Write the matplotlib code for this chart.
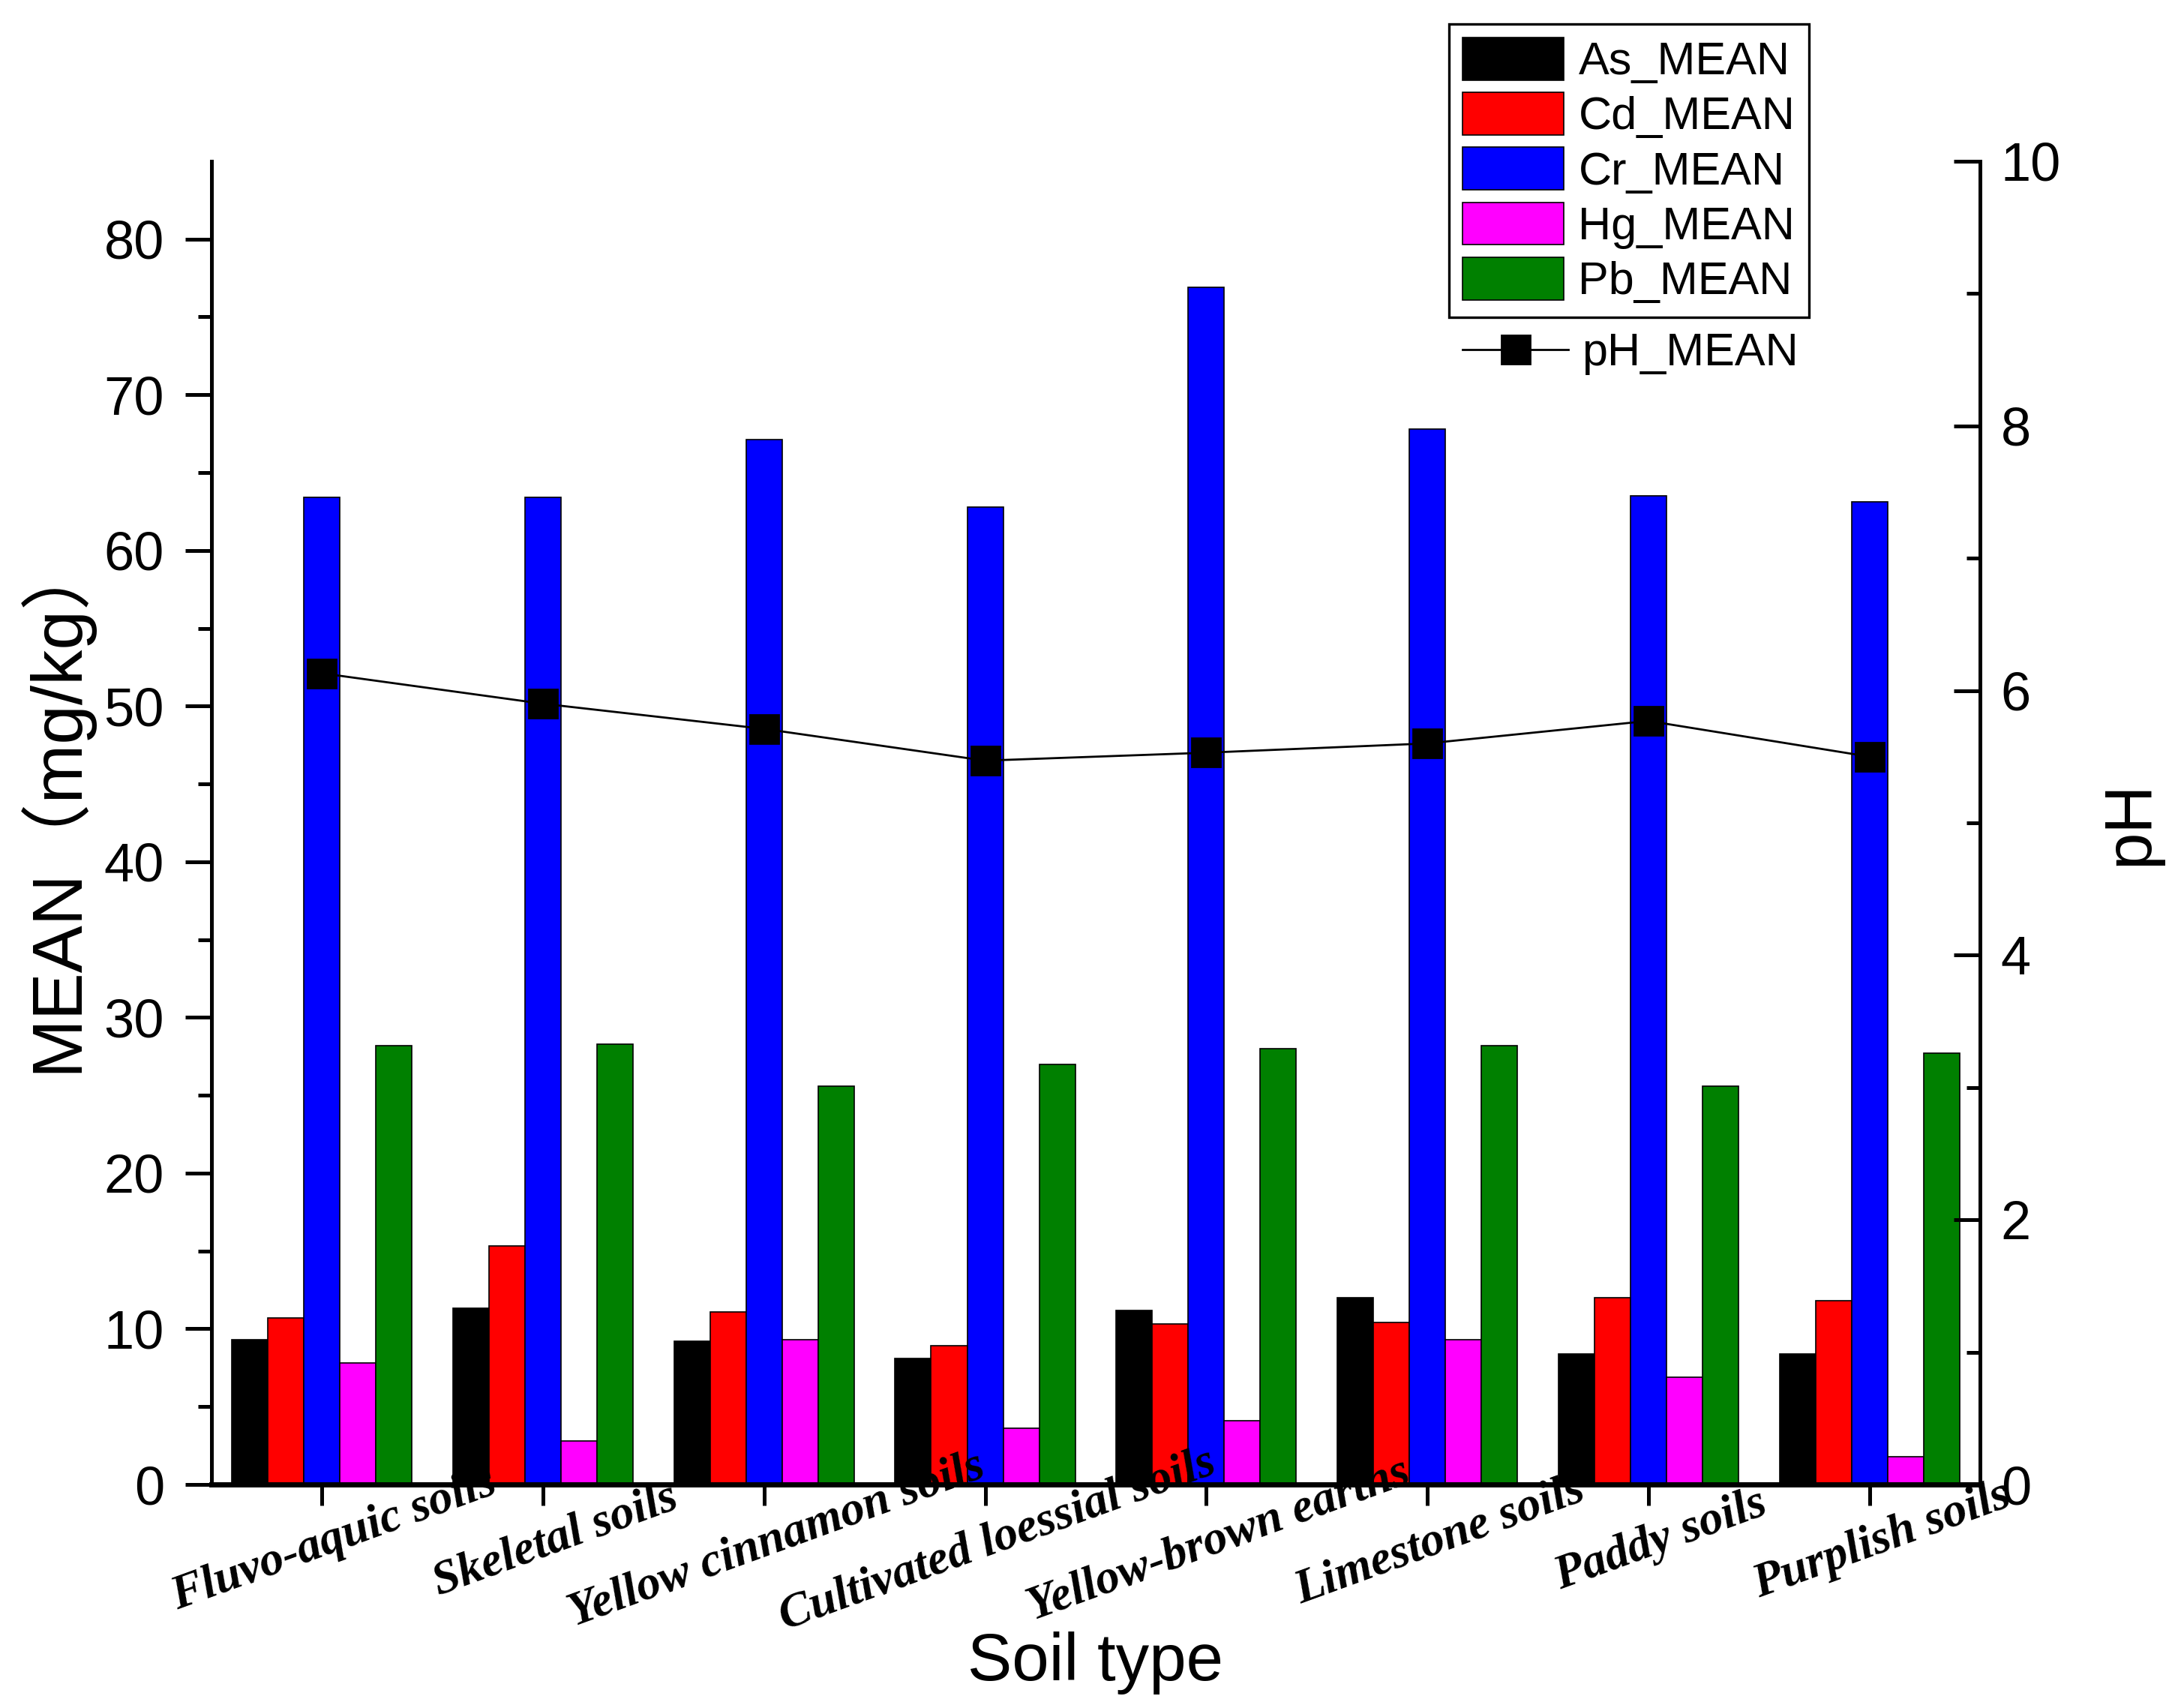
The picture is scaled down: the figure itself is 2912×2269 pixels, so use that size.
import numpy as np
import matplotlib.pyplot as plt
import matplotlib.transforms as mtransforms

soils = ['Fluvo-aquic soils', 'Skeletal soils', 'Yellow cinnamon soils',
         'Cultivated loessial soils', 'Yellow-brown earths', 'Limestone soils',
         'Paddy soils', 'Purplish soils']
as_mean = [9.3, 11.3, 9.2, 8.1, 11.2, 12.0, 8.4, 8.4]
cd_mean = [10.7, 15.3, 11.1, 8.9, 10.3, 10.4, 12.0, 11.8]
cr_mean = [63.4, 63.4, 67.1, 62.8, 76.9, 67.8, 63.5, 63.1]
hg_mean = [7.8, 2.8, 9.3, 3.6, 4.1, 9.3, 6.9, 1.8]
pb_mean = [28.2, 28.3, 25.6, 27.0, 28.0, 28.2, 25.6, 27.7]
ph_mean = [6.13, 5.90, 5.71, 5.47, 5.53, 5.60, 5.77, 5.50]

series = [as_mean, cd_mean, cr_mean, hg_mean, pb_mean]
names = ['As_MEAN', 'Cd_MEAN', 'Cr_MEAN', 'Hg_MEAN', 'Pb_MEAN']
colors = ['#000000', '#ff0000', '#0000ff', '#ff00ff', '#008000']

plt.rcParams['font.family'] = ['Liberation Sans', 'Noto Sans CJK SC']

fig = plt.figure(figsize=(14.56, 11.345), dpi=200)
ax = fig.add_axes([0.0968, 0.1278, 0.8098, 0.7775])

x = np.arange(len(soils))
w = 0.163
bars = []
for k in range(5):
    b = ax.bar(x + (k - 2) * w, series[k], w, color=colors[k],
               edgecolor='black', linewidth=0.6, label=names[k])
    bars.append(b)

ax.set_xlim(-0.5, 7.5)
ax.set_ylim(0, 85)
ax.set_yticks(np.arange(0, 81, 10))
ax.set_yticks(np.arange(5, 85, 10), minor=True)
ax.tick_params(axis='y', which='major', direction='out', length=12.6,
               width=1.8, labelsize=26, pad=10)
ax.tick_params(axis='y', which='minor', direction='out', length=6.6, width=1.8)
ax.set_xticks(x)
ax.set_xticklabels(soils, rotation=20, ha='center', va='center',
                   fontfamily='Liberation Serif', fontweight='bold',
                   fontstyle='italic', fontsize=23)
ax.tick_params(axis='x', direction='out', length=10, width=1.8, pad=17)
shift = mtransforms.ScaledTranslation(6 / 72, 0, fig.dpi_scale_trans)
for lab in ax.get_xticklabels():
    lab.set_transform(lab.get_transform() + shift)

ax.spines['top'].set_visible(False)
ax.spines['right'].set_visible(False)
ax.spines['left'].set_linewidth(1.8)
ax.spines['bottom'].set_linewidth(2.5)

ax.set_ylabel('MEAN（mg/kg）', fontsize=34, va='center')
ax.yaxis.set_label_coords(-0.089, 0.515)
ax.set_xlabel('Soil type', fontsize=32, va='center')
ax.xaxis.set_label_coords(0.5, -0.135)

ax2 = ax.twinx()
line, = ax2.plot(x, ph_mean, color='black', linewidth=1.0, marker='s',
                 markersize=13.5, markerfacecolor='black',
                 markeredgecolor='black', label='pH_MEAN')
ax2.set_ylim(0, 10)
ax2.set_yticks(np.arange(0, 11, 2))
ax2.set_yticks(np.arange(1, 10, 2), minor=True)
ax2.tick_params(axis='y', which='major', direction='in', length=12.6,
                width=1.8, labelsize=26, pad=10)
ax2.tick_params(axis='y', which='minor', direction='in', length=6.6, width=1.8)
for s in ['top', 'left', 'bottom']:
    ax2.spines[s].set_visible(False)
ax2.spines['right'].set_linewidth(1.8)
ax2.set_ylabel('pH', fontsize=32, va='center', rotation=90)
ax2.yaxis.set_label_coords(1.085, 0.5)

leg = fig.legend(handles=bars, labels=names, loc='upper left',
                 bbox_to_anchor=(0.6635, 0.986), borderaxespad=0,
                 fontsize=22, handlelength=2.2, handleheight=1.05,
                 labelspacing=0.18, handletextpad=0.32, borderpad=0.3,
                 fancybox=False, framealpha=1)
leg.get_frame().set_edgecolor('black')
leg.get_frame().set_linewidth(1.2)

leg2 = fig.legend(handles=[line], labels=['pH_MEAN'], loc='center left',
                  bbox_to_anchor=(0.6635, 0.792), borderaxespad=0,
                  fontsize=22, handlelength=2.3, handletextpad=0.3,
                  borderpad=0.3, frameon=False)

fig.savefig('out.png', dpi=200)
